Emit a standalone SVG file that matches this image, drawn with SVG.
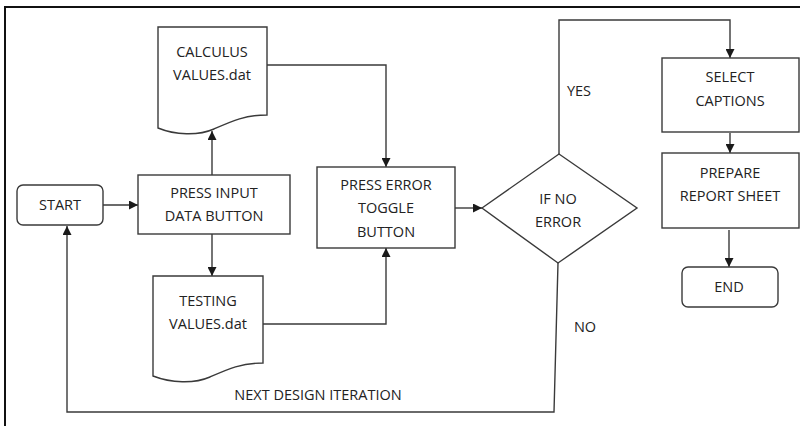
<svg xmlns="http://www.w3.org/2000/svg" width="800" height="426" viewBox="0 0 800 426">
<defs>
<marker id="ah" viewBox="0 0 10 10" refX="10" refY="5" markerWidth="9" markerHeight="9" markerUnits="userSpaceOnUse" orient="auto">
<path d="M0,0 L10,5 L0,10 z" fill="#1a1a1a"/>
</marker>
</defs>
<style>
.n{fill:#fff;stroke:#3a3a3a;stroke-width:1.4}
.t{font-family:"Open Sans","Liberation Sans",sans-serif;font-size:14.5px;fill:#222;text-anchor:middle}
.c{fill:none;stroke:#3a3a3a;stroke-width:1.4}
.a{marker-end:url(#ah)}
.fr{fill:none;stroke:#111;stroke-width:2}
</style>
<rect width="800" height="426" fill="#fff"/>
<path class="fr" d="M5,426 L5,7 L800,7"/>
<g id="connectors">
<path class="c a" d="M103,205 L138,205"/>
<path class="c a" d="M212,175 L212,131"/>
<path class="c a" d="M212,234 L212,276"/>
<path class="c a" d="M267,65 L386,65 L386,167"/>
<path class="c a" d="M263,324 L386,324 L386,248"/>
<path class="c a" d="M455,208 L482,208"/>
<path class="c a" d="M559,154 L559,20 L730,20 L730,58"/>
<path class="c a" d="M730,133 L730,153"/>
<path class="c a" d="M729,230 L729,267"/>
<path class="c a" d="M558,263 L554,412 L67,412 L67,226"/>
<text class="t" x="579" y="96">YES</text>
<text class="t" x="585" y="332">NO</text>
<text class="t" x="318" y="400">NEXT DESIGN ITERATION</text>
</g>
<g id="start">
<rect class="n" x="17" y="185" width="86" height="40" rx="6"/>
<text class="t" x="60" y="210">START</text>
</g>
<g id="press-input">
<rect class="n" x="138" y="175" width="152" height="59"/>
<text class="t" x="214" y="198">PRESS INPUT</text>
<text class="t" x="214" y="221">DATA BUTTON</text>
</g>
<g id="calculus">
<path class="n" d="M158,27 L267,27 L267,115 C245,115 232,121 214,129 C198,136 175,135 158,128 Z"/>
<text class="t" x="212" y="57">CALCULUS</text>
<text class="t" x="212" y="80">VALUES.dat</text>
</g>
<g id="testing">
<path class="n" d="M153,276 L263,276 L263,363 C241,363 228,369 210,377 C194,384 171,383 153,376 Z"/>
<text class="t" x="208" y="306">TESTING</text>
<text class="t" x="208" y="329">VALUES.dat</text>
</g>
<g id="press-error">
<rect class="n" x="317" y="167" width="138" height="81"/>
<text class="t" x="386" y="190">PRESS ERROR</text>
<text class="t" x="386" y="213">TOGGLE</text>
<text class="t" x="386" y="237">BUTTON</text>
</g>
<g id="decision">
<path class="n" d="M482,208 L559,154 L637,208 L558,263 Z"/>
<text class="t" x="558" y="204">IF NO</text>
<text class="t" x="558" y="227">ERROR</text>
</g>
<g id="select-captions">
<rect class="n" x="662" y="58" width="137" height="74"/>
<text class="t" x="730" y="82">SELECT</text>
<text class="t" x="730" y="106">CAPTIONS</text>
</g>
<g id="prepare-report">
<rect class="n" x="662" y="153" width="137" height="75"/>
<text class="t" x="730" y="178">PREPARE</text>
<text class="t" x="730" y="201">REPORT SHEET</text>
</g>
<g id="end">
<rect class="n" x="682" y="267" width="96" height="40" rx="6"/>
<text class="t" x="729" y="292">END</text>
</g>
</svg>
